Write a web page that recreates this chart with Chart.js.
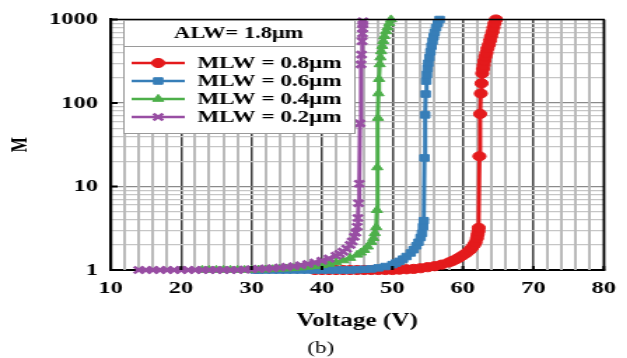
<!DOCTYPE html>
<html>
<head>
<meta charset="utf-8">
<script src="https://cdn.jsdelivr.net/npm/chart.js@4.4.1/dist/chart.umd.min.js"></script>
<style>
  html, body { margin: 0; padding: 0; background: #fff; overflow: hidden; }
  #wrap { width: 627px; height: 358px; overflow: hidden; }
  /* the figure is drawn narrow and stretched sideways, like the printed plot */
  #chart1 { display: block; transform: scaleX(1.4); transform-origin: 0 0; }
</style>
</head>
<body>
<div id="wrap"><canvas id="chart1" width="448" height="358"></canvas></div>
<script>
// axis ticks
const voltageTicks = [10, 20, 30, 40, 50, 60, 70, 80];
const mTicks = [1, 10, 100, 1000];

const legendTitle = 'ALW= 1.8μm';
const seriesLabels = ['MLW = 0.8μm', 'MLW = 0.6μm', 'MLW = 0.4μm', 'MLW = 0.2μm'];

// MLW = 0.8 µm
const v08 = [39, 40, 41, 42, 43, 44, 45, 46, 47, 48, 49, 50, 51, 52, 53, 54, 55, 56, 57, 58, 58.5, 59, 59.5, 60, 60.5, 61, 61.3, 61.6, 61.8, 62, 62.1, 62.2, 62.25, 62.35, 62.45, 62.55, 62.65, 62.75, 62.85, 62.95, 63.05, 63.2, 63.35, 63.5, 63.7, 63.85, 64, 64.2, 64.35, 64.5, 64.7];
const m08 = [1, 1, 1, 1, 1, 1, 1, 1, 1, 1, 1, 1, 1.01, 1.02, 1.03, 1.05, 1.08, 1.11, 1.16, 1.23, 1.28, 1.34, 1.41, 1.5, 1.6, 1.73, 1.85, 2, 2.15, 2.4, 2.65, 2.9, 3.2, 23, 74, 130, 172, 226, 255, 285, 320, 360, 400, 450, 500, 560, 630, 710, 800, 900, 1000];

// MLW = 0.6 µm
const v06 = [30.5, 31, 32, 33, 34, 35, 36, 37, 38, 39, 40, 41, 42, 43, 44, 45, 46, 47, 48, 49, 50, 50.5, 51, 51.5, 52, 52.6, 53, 53.4, 53.7, 54, 54.2, 54.35, 54.45, 54.55, 54.65, 54.72, 54.8, 54.9, 55, 55.1, 55.25, 55.4, 55.55, 55.7, 55.85, 56, 56.2, 56.45, 56.7];
const m06 = [1, 1, 1, 1, 1, 1, 1, 1, 1, 1, 1, 1, 1, 1, 1, 1.01, 1.02, 1.03, 1.06, 1.1, 1.16, 1.21, 1.27, 1.35, 1.45, 1.6, 1.75, 1.95, 2.15, 2.45, 2.75, 3.3, 3.9, 22, 72, 128, 183, 220, 260, 300, 350, 410, 480, 550, 620, 700, 800, 900, 1000];

// MLW = 0.4 µm
const v04 = [23, 24, 25, 26, 27, 28, 29, 30, 31, 32, 33, 34, 35, 36, 37, 38, 39, 40, 41, 42, 43, 44, 45, 45.5, 46, 46.5, 47, 47.3, 47.5, 47.7, 47.8, 47.85, 47.95, 48.02, 48.1, 48.2, 48.3, 48.4, 48.55, 48.7, 48.85, 49.1, 49.3, 49.55, 49.8];
const m04 = [1, 1, 1, 1, 1, 1, 1, 1, 1.01, 1.01, 1.02, 1.03, 1.04, 1.05, 1.07, 1.09, 1.11, 1.14, 1.18, 1.23, 1.3, 1.39, 1.52, 1.61, 1.73, 1.9, 2.15, 2.4, 2.75, 3.25, 5.2, 16.9, 66, 130, 193, 290, 350, 415, 480, 550, 630, 720, 800, 900, 1000];

// MLW = 0.2 µm
const v02 = [14, 15, 16, 17, 18, 19, 20, 21, 22, 23, 24, 25, 26, 27, 28, 29, 30, 31, 32, 33, 34, 35, 36, 37, 38, 39, 40, 41, 42, 42.5, 43, 43.5, 44, 44.3, 44.6, 44.8, 45, 45.1, 45.2, 45.3, 45.4, 45.55, 45.62, 45.7, 45.75, 45.78, 45.8, 45.82];
const m02 = [1, 1, 1, 1, 1, 1, 1, 1, 1, 1, 1, 1, 1, 1, 1, 1.01, 1.02, 1.03, 1.04, 1.05, 1.07, 1.09, 1.11, 1.14, 1.18, 1.23, 1.29, 1.37, 1.48, 1.56, 1.66, 1.8, 2, 2.2, 2.5, 2.8, 3.3, 4.2, 6.3, 10.8, 57, 290, 380, 550, 680, 780, 870, 950];

const serif = "'Liberation Serif', 'Times New Roman', serif";
const colors = ['#e41a1c', '#377eb8', '#4daf4a', '#984ea3'];
const styles = ['circle', 'rect', 'triangle', 'crossRot'];
const series = [[v08, m08], [v06, m06], [v04, m04], [v02, m02]];

function pts(vs, ms) {
  return vs.map((v, i) => ({ x: v, y: ms[i] }));
}

const datasets = series.map((s, i) => ({
  label: seriesLabels[i],
  data: pts(s[0], s[1]),
  borderColor: colors[i],
  backgroundColor: colors[i],
  borderWidth: 3,
  pointStyle: styles[i],
  pointRadius: i === 3 ? 4.8 : 4.6,
  pointBorderWidth: i === 3 ? 2.6 : 1,
  tension: 0,
  clip: false,
  order: 3 - i // 0.2 µm ends up on top
}));

// light vertical lines every 2 V between the labelled ones
const minorGrid = {
  id: 'minorGrid',
  beforeDatasetsDraw(chart) {
    const { ctx, chartArea: a, scales: { x } } = chart;
    ctx.save();
    ctx.fillStyle = '#bababa';
    for (let i = 0; i < voltageTicks.length - 1; i++) {
      const step = (voltageTicks[i + 1] - voltageTicks[i]) / 5;
      for (let k = 1; k < 5; k++) {
        const px = Math.round(x.getPixelForValue(voltageTicks[i] + k * step));
        ctx.fillRect(px - 1, a.top, 2, a.height);
      }
    }
    ctx.restore();
  }
};

// frame, inner tick marks, boxed legend and the "(b)" caption
const decorations = {
  id: 'decorations',
  afterDraw(chart) {
    const { ctx, chartArea: a, scales: { x, y } } = chart;
    ctx.save();

    ctx.strokeStyle = '#000';
    ctx.lineWidth = 1.5;
    ctx.beginPath();
    ctx.moveTo(a.left, a.top);
    ctx.lineTo(a.right, a.top);
    ctx.lineTo(a.right, a.bottom);
    ctx.stroke();

    ctx.lineWidth = 2;
    ctx.beginPath();
    voltageTicks.forEach(v => {
      const px = x.getPixelForValue(v);
      ctx.moveTo(px, a.bottom);
      ctx.lineTo(px, a.bottom - 4);
    });
    mTicks.forEach(m => {
      const py = y.getPixelForValue(m);
      ctx.moveTo(a.left, py);
      ctx.lineTo(a.left + 5, py);
    });
    ctx.stroke();

    // legend box
    const bx = 88, by = 20, bw = 165, bh = 113;
    ctx.fillStyle = '#fff';
    ctx.fillRect(bx, by, bw, bh);
    ctx.strokeStyle = '#9a9a9a';
    ctx.lineWidth = 1;
    ctx.strokeRect(bx + 0.5, by + 0.5, bw, bh);
    ctx.beginPath();
    ctx.moveTo(bx, 46.5);
    ctx.lineTo(bx + bw, 46.5);
    ctx.stroke();

    ctx.fillStyle = '#000';
    ctx.font = 'bold 16px ' + serif;
    ctx.textAlign = 'center';
    ctx.textBaseline = 'middle';
    ctx.fillText(legendTitle, bx + bw / 2, 34);

    ctx.font = 'bold 16.5px ' + serif;
    ctx.textAlign = 'left';
    chart.data.datasets.forEach((ds, i) => {
      const ly = 63 + i * 18;
      ctx.strokeStyle = ds.borderColor;
      ctx.fillStyle = ds.backgroundColor;
      ctx.lineWidth = 2.5;
      ctx.beginPath();
      ctx.moveTo(94, ly);
      ctx.lineTo(132, ly);
      ctx.stroke();
      ctx.lineWidth = ds.pointBorderWidth;
      Chart.helpers.drawPoint(ctx, {
        pointStyle: ds.pointStyle,
        radius: ds.pointRadius,
        rotation: 0,
        borderWidth: ds.pointBorderWidth
      }, 113, ly);
      ctx.fillStyle = '#000';
      ctx.fillText(ds.label, 141, ly + 1);
    });

    ctx.font = '16.5px ' + serif;
    ctx.textAlign = 'center';
    ctx.fillText('(b)', 229, 349);
    ctx.restore();
  }
};

const ctx1 = document.getElementById('chart1').getContext('2d');
const chart1 = new Chart(ctx1, {
  type: 'line',
  data: { datasets },
  options: {
    responsive: false,
    animation: false,
    devicePixelRatio: 1,
    layout: { padding: { top: 18, right: 9, bottom: 26, left: 0 } },
    plugins: { legend: { display: false }, tooltip: { enabled: false } },
    scales: {
      x: {
        type: 'linear',
        min: 10,
        max: 80,
        afterFit: s => { s.height = 62; },
        grid: {
          color: '#3c3c3c',
          lineWidth: 1.5,
          drawTicks: false
        },
        border: { color: '#000', width: 2 },
        ticks: {
          stepSize: 10,
          autoSkip: false,
          maxRotation: 0,
          padding: 8,
          color: '#000',
          font: { family: serif, weight: 'bold', size: 17.5 }
        },
        title: {
          display: true,
          text: 'Voltage (V)',
          color: '#000',
          font: { family: serif, weight: 'bold', size: 18 },
          padding: { top: 4, bottom: 0 }
        }
      },
      y: {
        type: 'logarithmic',
        min: 1,
        max: 1000,
        afterBuildTicks: s => {
          s.ticks = [];
          mTicks.slice(0, -1).forEach(d => {
            for (let k = 1; k < 10; k++) s.ticks.push({ value: d * k });
          });
          s.ticks.push({ value: mTicks[mTicks.length - 1] });
        },
        afterFit: s => { s.width = 79; },
        grid: {
          color: c => mTicks.includes(c.tick.value) ? '#8a8a8a' : '#c6c6c6',
          lineWidth: 1.2,
          drawTicks: false
        },
        border: { color: '#000', width: 2.2 },
        ticks: {
          autoSkip: false,
          padding: 9,
          color: '#000',
          font: { family: serif, weight: 'bold', size: 17.5 },
          callback: v => mTicks.includes(v) ? String(v) : ''
        },
        title: {
          display: true,
          text: 'M',
          color: '#000',
          font: { family: serif, weight: 'bold', size: 16 },
          padding: { top: 5, bottom: 0 }
        }
      }
    }
  },
  plugins: [minorGrid, decorations]
});
</script>
</body>
</html>
